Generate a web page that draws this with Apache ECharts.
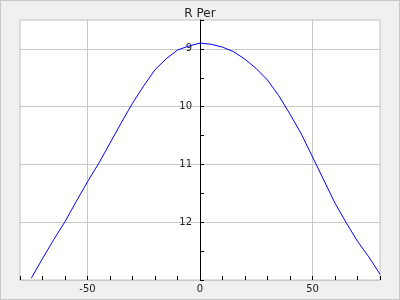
<!DOCTYPE html>
<html><head><meta charset="utf-8">
<script src="https://cdn.jsdelivr.net/npm/echarts@6/dist/echarts.min.js"></script>
<style>
html,body{margin:0;padding:0;background:#f0f0f0}
#c{position:absolute;left:0;top:0;width:400px;height:300px}
#frame{position:absolute;left:0;top:0;width:400px;height:300px;box-sizing:border-box;border:1px solid #c8c8c8;pointer-events:none}
</style>
</head><body><div id="c"></div><div id="frame"></div>
<script>
const titleText = 'R Per';
const angles = [-75,-70,-65,-60,-55,-50,-45,-40,-35,-30,-25,-20,-15,-10,-5,0,5,10,15,20,25,30,35,40,45,50,55,60,65,70,75,80];
const rPer = [12.97,12.63,12.30,11.99,11.64,11.30,10.98,10.63,10.28,9.94,9.64,9.36,9.17,9.02,8.95,8.90,8.92,8.97,9.05,9.18,9.34,9.54,9.81,10.13,10.47,10.87,11.27,11.67,12.01,12.33,12.60,12.90];
const xTickLabels = [-50, 0, 50];
const yTickLabels = [9, 10, 11, 12];

const chart = echarts.init(document.getElementById('c'), null, {renderer: 'canvas'});
const font = 'DejaVu Sans';
chart.setOption({
  backgroundColor: '#f0f0f0',
  animation: false,
  title: {
    text: titleText, left: 'center', top: 3,
    textStyle: {fontSize: 12, fontWeight: 'normal', color: '#222', fontFamily: font}
  },
  grid: {
    left: 20, top: 20, width: 360, height: 260,
    show: true, backgroundColor: '#ffffff', borderColor: '#c0c0c0', borderWidth: 1,
    outerBoundsMode: 'none'
  },
  xAxis: {
    type: 'value', min: -80, max: 80, interval: 10,
    axisLine: {show: false, onZero: false},
    axisTick: {show: true, inside: true, length: 4, lineStyle: {color: '#000'}},
    axisLabel: {
      margin: 4, fontSize: 10, color: '#222', fontFamily: font,
      formatter: v => xTickLabels.includes(Math.round(v)) && Math.abs(v - Math.round(v)) < 1e-9 ? String(Math.round(v)) : ''
    },
    splitLine: {show: true, lineStyle: {color: ['rgba(0,0,0,0)','rgba(0,0,0,0)','rgba(0,0,0,0)','#c8c8c8','rgba(0,0,0,0)'], width: 1}}
  },
  yAxis: {
    type: 'value', inverse: true, min: 8.5, max: 13, interval: 0.5,
    position: 'left', offset: -180,
    axisLine: {show: true, onZero: false, lineStyle: {color: '#000', width: 1}},
    axisTick: {show: true, inside: true, length: 4, lineStyle: {color: '#000'}},
    axisLabel: {
      margin: 8, fontSize: 10, color: '#222', fontFamily: font,
      formatter: v => (Math.abs(v - Math.round(v)) < 1e-9 && yTickLabels.includes(Math.round(v))) ? String(Math.round(v)) : ''
    },
    splitLine: {show: true, lineStyle: {color: ['rgba(0,0,0,0)', '#c8c8c8'], width: 1}}
  },
  series: [{
    type: 'line',
    data: angles.map((a, i) => [a, rPer[i]]),
    showSymbol: false, symbol: 'none', smooth: false,
    lineStyle: {color: '#0000ff', width: 1},
    itemStyle: {color: '#0000ff'}
  }]
});
</script>
</body></html>
